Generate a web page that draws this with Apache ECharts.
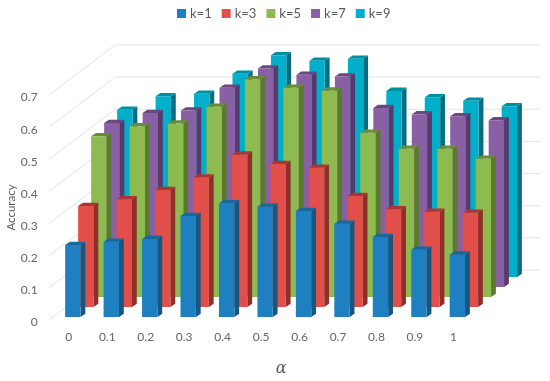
<!DOCTYPE html>
<html>
<head>
<meta charset="utf-8">
<style>html,body{margin:0;padding:0;background:#fff}#c{width:550px;height:381px}</style>
<script src="https://cdn.jsdelivr.net/npm/echarts@6/dist/echarts.min.js"></script>
</head>
<body>
<div id="c"></div>
<script>
const categories = ['0','0.1','0.2','0.3','0.4','0.5','0.6','0.7','0.8','0.9','1'];
const yTicks = [0,0.1,0.2,0.3,0.4,0.5,0.6,0.7];
const k1 = [0.224,0.234,0.243,0.314,0.354,0.343,0.330,0.290,0.249,0.209,0.194];
const k3 = [0.314,0.335,0.364,0.403,0.474,0.445,0.433,0.345,0.304,0.296,0.293];
const k5 = [0.500,0.531,0.540,0.592,0.677,0.651,0.642,0.511,0.461,0.461,0.430];
const k7 = [0.510,0.541,0.549,0.620,0.680,0.660,0.655,0.557,0.537,0.531,0.519];
const k9 = [0.520,0.562,0.570,0.632,0.690,0.673,0.679,0.579,0.559,0.548,0.531];
const seriesNames = ['k=1','k=3','k=5','k=7','k=9'];
const seriesValues = [k1,k3,k5,k7,k9];
const palette = [
  {front:'#1e80c0', side:'#14577f', top:'#17689c'},
  {front:'#e24e49', side:'#8f2e2b', top:'#a83734'},
  {front:'#8dbb50', side:'#5a7a30', top:'#6a8c3a'},
  {front:'#8a60a5', side:'#573a6b', top:'#6a4780'},
  {front:'#00b0cb', side:'#006e80', top:'#008ea5'}
];
const DX = 13, DY = -10, BASE = -3, SX = 4.8, SY = -3.3;

function barRenderer(s) {
  return function (params, api) {
    const c = api.coord([api.value(0), api.value(1)]);
    const b = api.coord([api.value(0), 0]);
    const w = api.size([1, 0])[0] * 0.4;
    const x0 = c[0] - w / 2 + s * DX, x1 = x0 + w;
    const yT = c[1] + BASE + s * DY, yB = b[1] + BASE + s * DY;
    const col = palette[s];
    return {
      type: 'group',
      children: [
        {type:'polygon', shape:{points:[[x1,yT],[x1+SX,yT+SY],[x1+SX,yB+SY],[x1,yB]]}, style:{fill:col.side}},
        {type:'polygon', shape:{points:[[x0,yT],[x0+SX,yT+SY],[x1+SX,yT+SY],[x1,yT]]}, style:{fill:col.top}},
        {type:'rect', shape:{x:x0,y:yT,width:w,height:yB-yT}, style:{fill:col.front}}
      ]
    };
  };
}

function wallRenderer(params, api) {
  const y = api.coord([0, api.value(0)])[1];
  const x = params.coordSys.x - 4.6;
  return {
    type:'polyline',
    shape:{points:[[x,y],[x+66,y-50],[540,y-50]]},
    style:{stroke:'#e4e4e4', lineWidth:1, fill:'none'}
  };
}

const series = [{
  name:'walls', type:'custom', z:1, silent:true,
  renderItem: wallRenderer,
  encode:{y:0},
  data: yTicks.map(v => [v])
}];
seriesValues.forEach((vals, s) => {
  series.push({
    name: seriesNames[s], type:'custom', z:10 - s, silent:true,
    renderItem: barRenderer(s),
    encode:{x:0, y:1},
    itemStyle:{color:palette[s].front},
    data: vals.map((v, i) => [i, v])
  });
});

const chart = echarts.init(document.getElementById('c'), null, {renderer:'canvas'});
chart.setOption({
  backgroundColor:'#fff',
  animation:false,
  textStyle:{fontFamily:'Lato, sans-serif', color:'#595959'},
  legend:{
    data:seriesNames, left:172, top:2, icon:'rect', itemWidth:9, itemHeight:9, itemGap:10,
    textStyle:{fontSize:13, color:'#595959', padding:[0,0,0,-1]}, selectedMode:false
  },
  grid:{left:53.6, width:423, top:95, height:225, outerBoundsMode:'none'},
  xAxis:{
    type:'category', data:categories,
    axisLine:{show:false}, axisTick:{show:false}, splitLine:{show:false},
    axisLabel:{fontSize:12, color:'#666', margin:11, padding:[0,8,0,0]},
    name:'α', nameLocation:'middle', nameGap:41,
    nameTextStyle:{fontFamily:'"DejaVu Serif", serif', fontStyle:'italic', fontSize:16, color:'#595959', padding:[0,0,0,32]}
  },
  yAxis:{
    type:'value', min:0, max:0.7, interval:0.1,
    axisLine:{show:false}, axisTick:{show:false}, splitLine:{show:false},
    axisLabel:{
      color:'#666', margin:16, showMaxLabel:true,
      formatter:v => '{t|' + (+v.toFixed(1)) + '}',
      rich:{t:{fontSize:12, color:'#666', fontFamily:'Lato, sans-serif', padding:[5,0,0,0]}}
    },
    name:'Accuracy', nameLocation:'middle', nameGap:36, nameMoveOverlap:false,
    nameTextStyle:{fontSize:11.5, color:'#595959'}
  },
  series: series
});
</script>
</body>
</html>
